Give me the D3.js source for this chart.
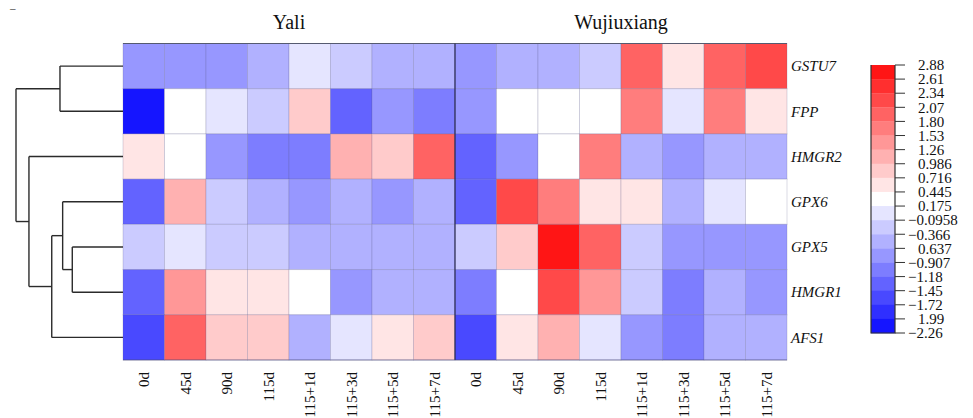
<!DOCTYPE html>
<html>
<head>
<meta charset="utf-8">
<script src="https://cdn.jsdelivr.net/npm/d3@7"></script>
<style>
  html, body { margin: 0; padding: 0; background: #fff; }
  svg { display: block; }
</style>
</head>
<body>
<svg id="chart" width="973" height="418"></svg>
<script>
// Time points for each cultivar
const timePoints = ["0d", "45d", "90d", "115d", "115+1d", "115+3d", "115+5d", "115+7d"];
const cultivars = ["Yali", "Wujiuxiang"];
// Genes in clustered (dendrogram) order
const genes = ["GSTU7", "FPP", "HMGR2", "GPX6", "GPX5", "HMGR1", "AFS1"];

// Standardised expression, Yali (8 points) followed by Wujiuxiang (8 points)
const GSTU7 = [-0.74, -0.78, -0.71, -0.49, 0.05, -0.22, -0.45, -0.47, -0.76, -0.52, -0.50, -0.20, 1.93, 0.58, 1.90, 2.18];
const FPP   = [-2.26, 0.33, 0.02, -0.25, 0.84, -1.30, -0.72, -1.02, -0.70, 0.31, 0.29, 0.36, 1.66, 0.01, 1.62, 0.61];
const HMGR2 = [0.55, 0.35, -0.75, -1.05, -1.01, 1.12, 0.86, 1.95, -1.28, -0.79, 0.30, 1.68, -0.48, -0.77, -0.51, -0.45];
const GPX6  = [-1.32, 1.15, -0.21, -0.50, -0.80, -0.49, -0.76, -0.46, -1.35, 2.20, 1.70, 0.60, 0.57, -0.48, 0.08, 0.26];
const GPX5  = [-0.24, 0.05, -0.19, -0.23, -0.47, -0.52, -0.50, -0.48, -0.20, 0.83, 2.88, 1.98, -0.26, -0.75, -0.79, -0.72];
const HMGR1 = [-1.30, 1.38, 0.62, 0.55, 0.30, -0.80, -0.51, -0.48, -1.00, 0.34, 2.21, 1.42, -0.22, -1.04, -0.48, -0.73];
const AFS1  = [-1.56, 1.94, 0.87, 0.84, -0.45, 0.04, 0.57, 0.81, -1.60, 0.60, 1.13, 0.02, -0.75, -1.07, -0.53, -0.47];

// Colour key labels, top to bottom
const legendLabels = ["2.88", "2.61", "2.34", "2.07", "1.80", "1.53", "1.26", "0.986", "0.716", "0.445",
  "0.175", "\u22120.0958", "\u22120.366", "0.637", "\u22120.907", "\u22121.18", "\u22121.45", "\u22121.72", "1.99", "\u22122.26"];

// Row clustering: merge heights of each internal node
const rowTree = {
  h: 10.0, children: [
    { h: 5.89, children: [{ name: "GSTU7" }, { name: "FPP" }] },
    { h: 8.79, children: [
      { name: "HMGR2" },
      { h: 6.66, children: [
        { h: 5.64, children: [
          { name: "GPX6" },
          { h: 4.74, children: [{ name: "GPX5" }, { name: "HMGR1" }] }
        ] },
        { name: "AFS1" }
      ] }
    ] }
  ]
};

const rows = { GSTU7, FPP, HMGR2, GPX6, GPX5, HMGR1, AFS1 };
const columns = [];
cultivars.forEach(c => timePoints.forEach(t => columns.push({ key: c + "|" + t, cultivar: c, label: t })));

const serif = "'Liberation Serif', 'DejaVu Serif', 'Times New Roman', serif";
const svg = d3.select("#chart")
  .attr("font-family", serif)
  .style("font-family", serif);

const hmLeft = 123, hmRight = 787, hmTop = 43.5, hmBottom = 360;
const x = d3.scaleBand().domain(columns.map(d => d.key)).range([hmLeft, hmRight]);
const y = d3.scaleBand().domain(genes).range([hmTop, hmBottom]);

// 19 discrete steps from blue through white to red
const nBins = 19;
const binColors = d3.range(nBins).map(i => {
  const L = i - 9, s = 26 * Math.abs(L);
  return L < 0 ? d3.rgb(255 - s, 255 - s, 255) : d3.rgb(255, 255 - s, 255 - s);
}).map(String);
const color = d3.scaleQuantize().domain([-2.26, 2.88]).range(binColors);

// Heatmap cells
const cells = [];
genes.forEach(g => rows[g].forEach((v, i) => cells.push({ gene: g, col: columns[i].key, value: v })));
svg.append("g").selectAll("rect").data(cells).join("rect")
  .attr("x", d => x(d.col))
  .attr("y", d => y(d.gene))
  .attr("width", x.bandwidth())
  .attr("height", y.bandwidth())
  .attr("fill", d => color(d.value))
  .attr("stroke", "rgba(90,90,140,0.22)")
  .attr("stroke-width", 1);

// Top edge and cultivar separator
svg.append("line").attr("x1", hmLeft).attr("x2", hmRight).attr("y1", hmTop).attr("y2", hmTop)
  .attr("stroke", "#555a70").attr("stroke-width", 1.2);
const sepX = x(columns[timePoints.length].key);
svg.append("line").attr("x1", sepX).attr("x2", sepX).attr("y1", hmTop).attr("y2", hmBottom)
  .attr("stroke", "#2a2a50").attr("stroke-width", 1.2);
svg.append("line").attr("x1", hmLeft).attr("x2", hmRight).attr("y1", hmBottom).attr("y2", hmBottom)
  .attr("stroke", "rgba(70,70,120,0.6)").attr("stroke-width", 1);

const txt = sel => sel.attr("font-family", serif).style("font-family", serif).attr("fill", "#111");

// Cultivar titles
cultivars.forEach(c => {
  const cols = columns.filter(d => d.cultivar === c);
  const cx = (x(cols[0].key) + x(cols[cols.length - 1].key) + x.bandwidth()) / 2;
  svg.append("text").call(txt).attr("x", cx).attr("y", 29).attr("text-anchor", "middle")
    .style("font-size", "20px").text(c);
});

// Column labels, rotated
svg.append("g").selectAll("text").data(columns).join("text").call(txt)
  .attr("transform", d => `translate(${x(d.key) + x.bandwidth() / 2},372) rotate(-90)`)
  .attr("text-anchor", "end")
  .attr("dy", "0.35em")
  .style("font-size", "15px")
  .text(d => d.label);

// Row labels
svg.append("g").selectAll("text").data(genes).join("text").call(txt)
  .attr("x", hmRight + 4)
  .attr("y", d => y(d) + y.bandwidth() / 2)
  .attr("dy", "0.35em")
  .style("font-size", "15px")
  .style("font-style", "italic")
  .text(d => d);

// Row dendrogram
const root = d3.hierarchy(rowTree);
const dx = d3.scaleLinear().domain([0, 10]).range([hmLeft, 16]);
root.eachAfter(n => {
  if (n.children) n.yPos = d3.mean(n.children, c => c.yPos);
  else n.yPos = y(n.data.name) + y.bandwidth() / 2;
  n.xPos = n.children ? dx(n.data.h) : hmLeft;
});
const dendro = svg.append("g").attr("fill", "none").attr("stroke", "#2b2b2b").attr("stroke-width", 1.4);
root.descendants().filter(n => n.children).forEach(n => {
  const ys = n.children.map(c => c.yPos);
  dendro.append("line").attr("x1", n.xPos).attr("x2", n.xPos)
    .attr("y1", d3.min(ys)).attr("y2", d3.max(ys));
  n.children.forEach(c => {
    dendro.append("line").attr("x1", n.xPos).attr("x2", c.xPos)
      .attr("y1", c.yPos).attr("y2", c.yPos);
  });
});

// Colour key
const keyX = 871, keyW = 24, keyTop = 65, keyBottom = 333;
const edges = [color.domain()[1], ...color.thresholds().slice().reverse(), color.domain()[0]];
const ky = d3.scaleLinear().domain([2.88, -2.26]).range([keyTop, keyBottom]);
const key = svg.append("g");
key.selectAll("rect").data(binColors.slice().reverse()).join("rect")
  .attr("x", keyX)
  .attr("y", (d, i) => ky(edges[i]))
  .attr("width", keyW)
  .attr("height", (d, i) => ky(edges[i + 1]) - ky(edges[i]) + 0.3)
  .attr("fill", d => d);
key.append("path")
  .attr("d", `M${keyX},${keyTop}V${keyBottom}H${keyX + keyW}V${keyTop}`)
  .attr("fill", "none").attr("stroke", "#333").attr("stroke-width", 1.2);
key.selectAll("line.tick").data(edges).join("line")
  .attr("class", "tick")
  .attr("x1", keyX + keyW).attr("x2", keyX + keyW + 10)
  .attr("y1", d => ky(d)).attr("y2", d => ky(d))
  .attr("stroke", "#333").attr("stroke-width", 1);
key.selectAll("text.lab").data(legendLabels).join("text").call(txt)
  .attr("class", "lab")
  .attr("x", d => d.startsWith("\u2212") ? keyX + keyW + 13 : keyX + keyW + 23)
  .attr("y", (d, i) => ky(edges[i]))
  .attr("dy", "0.35em")
  .style("font-size", "15px")
  .text(d => d);

// Small mark in the upper-left corner
svg.append("text").call(txt).attr("x", 10).attr("y", 12).style("font-size", "11px").text("\u2013");
</script>
</body>
</html>
